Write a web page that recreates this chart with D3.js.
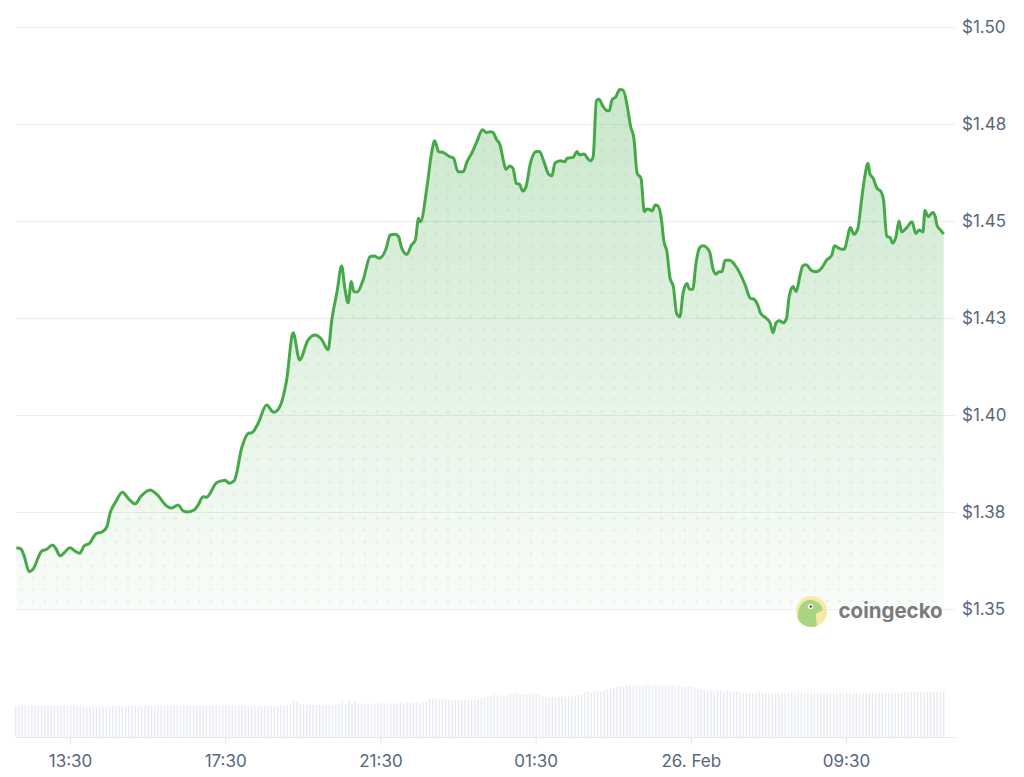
<!DOCTYPE html>
<html><head><meta charset="utf-8">
<script src="https://cdn.jsdelivr.net/npm/d3@7"></script>
<style>
html,body{margin:0;padding:0;background:#fff;}
svg{display:block;font-family:Inter,"Noto Sans",sans-serif;}
</style></head><body>
<svg id="chart" width="1024" height="777"></svg>
<script>
// minutes after 25 Feb 12:00
const times = [7,14,19,27,33,46,54,63,68,75,81,90,98,105,112,120,131,139,147,152,161,171,180,191,199,214,224,240,247,257,265,272,282,288,296,301,317,330,336,344,356,366,371,381,394,405,414,425,435,445,458,469,479,489,495,503,510,515,520,525,529,534,544,554,560,568,579,585,593,598,603,611,618,624,629,632,642,649,654,660,667,677,683,690,698,704,711,719,728,734,740,744,750,755,760,764,770,775,780,785,790,795,802,811,816,822,830,835,840,848,855,859,868,874,878,885,890,895,899,904,908,914,919,924,928,934,940,945,951,957,962,967,973,978,982,986,990,995,999,1005,1008,1013,1018,1023,1028,1033,1038,1044,1048,1053,1058,1064,1069,1079,1084,1089,1093,1098,1103,1110,1118,1126,1134,1142,1148,1153,1158,1167,1173,1177,1182,1187,1193,1198,1202,1208,1213,1219,1223,1228,1237,1244,1252,1260,1268,1272,1280,1287,1297,1302,1308,1314,1319,1324,1327,1332,1338,1344,1348,1353,1358,1362,1367,1372,1376,1384,1392,1398,1403,1409,1412,1417,1424,1428,1431,1436,1441];
const prices = [1.3658,1.3655,1.3637,1.3596,1.3603,1.3649,1.3654,1.3665,1.3656,1.3637,1.3645,1.3658,1.3649,1.3644,1.3663,1.3669,1.3695,1.3698,1.3712,1.3747,1.3777,1.3801,1.3785,1.3771,1.3789,1.3807,1.3796,1.3765,1.3760,1.3768,1.3753,1.3750,1.3755,1.3768,1.3789,1.3788,1.3826,1.3832,1.3824,1.3831,1.3918,1.3953,1.3954,1.3979,1.4026,1.4007,1.4020,1.4090,1.4212,1.4142,1.4193,1.4206,1.4195,1.4168,1.4247,1.4318,1.4384,1.4327,1.4289,1.4344,1.4318,1.4317,1.4352,1.4408,1.4410,1.4404,1.4430,1.4464,1.4466,1.4460,1.4430,1.4414,1.4438,1.4451,1.4507,1.4498,1.4588,1.4674,1.4707,1.4679,1.4677,1.4666,1.4662,1.4627,1.4627,1.4653,1.4674,1.4704,1.4735,1.4728,1.4730,1.4728,1.4709,1.4696,1.4657,1.4633,1.4642,1.4636,1.4597,1.4595,1.4577,1.4588,1.4649,1.4679,1.4679,1.4657,1.4621,1.4616,1.4649,1.4655,1.4653,1.4662,1.4664,1.4679,1.4670,1.4673,1.4662,1.4655,1.4666,1.4810,1.4814,1.4796,1.4786,1.4784,1.4812,1.4820,1.4839,1.4838,1.4803,1.4743,1.4713,1.4623,1.4610,1.4524,1.4531,1.4530,1.4526,1.4541,1.4539,1.4498,1.4451,1.4421,1.4352,1.4331,1.4262,1.4253,1.4314,1.4339,1.4324,1.4324,1.4391,1.4432,1.4436,1.4421,1.4378,1.4363,1.4369,1.4369,1.4399,1.4399,1.4387,1.4365,1.4335,1.4301,1.4298,1.4286,1.4262,1.4249,1.4236,1.4212,1.4238,1.4243,1.4238,1.4249,1.4305,1.4331,1.4318,1.4361,1.4384,1.4387,1.4372,1.4369,1.4378,1.4399,1.4412,1.4436,1.4429,1.4427,1.4483,1.4466,1.4479,1.4554,1.4614,1.4649,1.4621,1.4610,1.4584,1.4576,1.4554,1.4460,1.4458,1.4443,1.4458,1.4500,1.4472,1.4483,1.4498,1.4468,1.4477,1.4472,1.4527,1.4511,1.4522,1.4511,1.4487,1.4477,1.4466];
// 5-minute volume bars (millions USD), first bar at 12:06
const volumeStart = 6, volumeStep = 5;
const volumes = [310,308,310,311,309,310,310,312,309,310,308,310,311,310,309,310,312,310,309,311,305,304,305,306,305,304,306,305,307,308,310,309,311,310,310,309,312,311,310,309,310,311,309,310,312,310,309,310,311,310,309,310,311,310,309,312,310,311,310,309,310,311,310,309,310,312,311,310,309,310,311,310,309,310,312,310,311,310,309,310,311,310,312,314,316,318,
360,345,330,
322,320,324,321,320,323,322,320,325,322,321,324,
362,330,365,332,360,336,
332,330,334,331,333,340,335,332,338,334,333,336,345,
342,348,340,352,346,341,347,352,
380,386,382,376,388,380,
366,372,364,368,370,375,366,372,368,380,388,
392,402,410,425,415,400,422,412,
432,428,436,420,426,432,428,434,425,418,410,
402,398,405,400,396,404,402,408,400,412,420,430,
450,456,440,462,470,452,462,475,480,490,
505,512,500,518,520,510,522,515,508,525,520,512,518,505,522,510,515,520,500,512,505,498,510,502,495,
475,480,470,462,468,455,470,460,452,465,455,448,460,450,
440,438,445,436,442,450,438,444,436,440,446,438,442,435,440,448,437,452,440,438,444,436,440,450,438,442,436,445,438,440,452,436,440,444,438,442,436,440,446,438,440,436,442,445,438,440,444,436,442,438,446,450,448,452,455,450,448,452,454,450,452,448,450];
const yTicks = [1.35,1.375,1.40,1.425,1.45,1.475,1.50];
const yTickLabels = ["$1.35","$1.38","$1.40","$1.43","$1.45","$1.48","$1.50"];
const xTicks = [90,330,570,810,1050,1290];
const xTickLabels = ["13:30","17:30","21:30","01:30","26. Feb","09:30"];

const base = new Date(2024,1,25,12,0,0);
const t = m => new Date(base.getTime() + m*60000);

const svg = d3.select("#chart");
const x = d3.scaleTime().domain([t(6.5), t(1441.5)]).range([16, 944]);
const y = d3.scaleLinear().domain([1.35, 1.50]).range([609, 27]);
const yv = d3.scaleLinear().domain([0, 600]).range([737, 677]);

const defs = svg.append("defs");
const grad = defs.append("linearGradient").attr("id","areaGrad")
  .attr("gradientUnits","userSpaceOnUse").attr("x1",0).attr("x2",0).attr("y1",85).attr("y2",609);
grad.append("stop").attr("offset","0%").attr("stop-color","#4caf50").attr("stop-opacity",0.30);
grad.append("stop").attr("offset","100%").attr("stop-color","#4caf50").attr("stop-opacity",0.03);
const pat = defs.append("pattern").attr("id","dots").attr("patternUnits","userSpaceOnUse")
  .attr("x",15.4).attr("y",524.1).attr("width",11.85).attr("height",11.85);
pat.append("circle").attr("cx",5.925).attr("cy",5.925).attr("r",1.6).attr("fill","rgba(60,120,60,0.08)");

// grid
svg.append("g").selectAll("line").data(yTicks).join("line")
  .attr("x1",16).attr("x2",956).attr("y1",d=>Math.round(y(d))+0.5).attr("y2",d=>Math.round(y(d))+0.5)
  .attr("stroke","#eceef2").attr("stroke-width",1);

// y labels
svg.append("g").selectAll("text").data(yTicks).join("text")
  .attr("x",962).attr("y",d=>y(d)+6)
  .attr("fill","#58667e").attr("font-size","17px")
  .text((d,i)=>yTickLabels[i]);

const data = times.map((m,i)=>({d:t(m), v:prices[i]}));
const area = d3.area().x(p=>x(p.d)).y0(y(1.35)).y1(p=>y(p.v)).curve(d3.curveMonotoneX);
const line = d3.line().x(p=>x(p.d)).y(p=>y(p.v)).curve(d3.curveMonotoneX);

svg.append("path").datum(data).attr("d",area).attr("fill","url(#areaGrad)");
svg.append("path").datum(data).attr("d",area).attr("fill","url(#dots)");
svg.append("path").datum(data).attr("d",line).attr("fill","none")
  .attr("stroke","#46a948").attr("stroke-width",3).attr("stroke-linejoin","round");

// volume bars
svg.append("g").selectAll("rect").data(volumes).join("rect")
  .attr("x",(v,i)=>x(t(volumeStart+i*volumeStep))-0.75)
  .attr("width",1.5)
  .attr("y",v=>yv(v)).attr("height",v=>yv(0)-yv(v))
  .attr("fill","#e8ebf0");

// x axis
const xAxis = d3.axisBottom(x).tickValues(xTicks.map(t)).tickFormat((d,i)=>xTickLabels[i]).tickSize(8).tickPadding(10);
const gx = svg.append("g").attr("transform","translate(0,737)").call(xAxis);
gx.select(".domain").attr("d","M16,0.5H956").attr("stroke","#e6e8ec");
gx.selectAll(".tick line").attr("stroke","#e6e8ec");
gx.selectAll(".tick text").attr("fill","#58667e").attr("font-size","17px").attr("font-family","Inter,sans-serif");

// coingecko logo
const logo = svg.append("g");
defs.append("clipPath").attr("id","logoClip").append("circle").attr("cx",811.5).attr("cy",611.5).attr("r",15.5);
logo.append("circle").attr("cx",811.5).attr("cy",611.5).attr("r",15.5).attr("fill","#f7e9a8");
logo.append("path").attr("clip-path","url(#logoClip)")
  .attr("d","M797,630 L798,614 C799,604 805,599 812,600 C818,601 822,605 823,610 C820,612 816,612 816,615 L817,630 Z")
  .attr("fill","#a9d482");
logo.append("circle").attr("cx",810.5).attr("cy",606.5).attr("r",2.6).attr("fill","#fff");
logo.append("circle").attr("cx",810.8).attr("cy",606.5).attr("r",1.2).attr("fill","#4a4a4a");
logo.append("text").attr("x",838.5).attr("y",618).attr("font-size","20.5px").attr("font-weight",700)
  .attr("fill","#7b7b7b").text("coingecko");
</script>
</body></html>
